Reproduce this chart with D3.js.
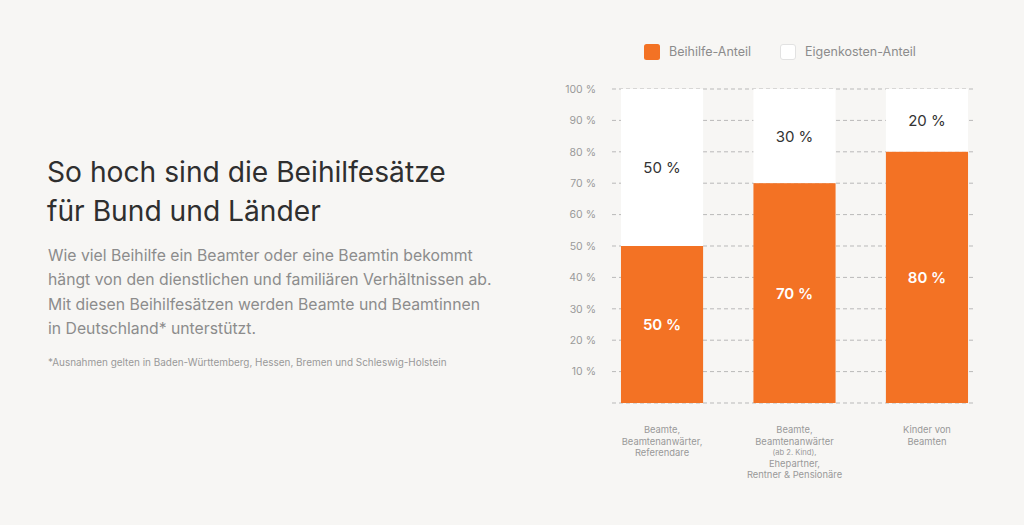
<!DOCTYPE html>
<html><head><meta charset="utf-8">
<script src="https://cdn.jsdelivr.net/npm/d3@7"></script>
<style>
html,body{margin:0;padding:0;background:#f7f6f4;}
svg{display:block;font-family:Inter,"Noto Sans",sans-serif;}
</style></head><body>
<svg id="c" width="1024" height="525"></svg>
<script>
const categories = ["c1","c2","c3"];
const categoryLabels = [
  [["Beamte,",9.4],["Beamtenanwärter,",9.4],["Referendare",9.4]],
  [["Beamte,",9.4],["Beamtenanwärter",9.4],["(ab 2. Kind),",7.6],["Ehepartner,",9.4],["Rentner & Pensionäre",9.4]],
  [["Kinder von",9.4],["Beamten",9.4]]
];
const beihilfe = [50,70,80];
const eigen = [50,30,20];
const yTicks = [10,20,30,40,50,60,70,80,90,100];
const seriesNames = ["Beihilfe-Anteil","Eigenkosten-Anteil"];
const titleLines = ["So hoch sind die Beihilfesätze","für Bund und Länder"];
const bodyLines = ["Wie viel Beihilfe ein Beamter oder eine Beamtin bekommt","hängt von den dienstlichen und familiären Verhältnissen ab.","Mit diesen Beihilfesätzen werden Beamte und Beamtinnen","in Deutschland* unterstützt."];
const footnote = "*Ausnahmen gelten in Baden-Württemberg, Hessen, Bremen und Schleswig-Holstein";

const orange = "#f37224";
const svg = d3.select("#c");
svg.append("rect").attr("width",1024).attr("height",525).attr("fill","#f7f6f4");

// left text
const tg = svg.append("g");
titleLines.forEach((t,i)=>tg.append("text").attr("x",47).attr("y",182+i*39).attr("font-size",28.2).attr("fill","#2f2f2f").attr("font-weight",400).text(t));
bodyLines.forEach((t,i)=>tg.append("text").attr("x",48).attr("y",261+i*24.3).attr("font-size",15.75).attr("fill","#8c8c8c").text(t));
tg.append("text").attr("x",48).attr("y",366).attr("font-size",9.95).attr("fill","#999").text(footnote);

// chart
const x = d3.scaleBand().domain(categories).range([611.7,977.3]).paddingInner(0.38).paddingOuter(0.07);
const y = d3.scaleLinear().domain([0,100]).range([403,89]);

// grid
const grid = svg.append("g");
[0,...yTicks].forEach(v=>{
  grid.append("line").attr("x1",612).attr("x2",976).attr("y1",y(v)).attr("y2",y(v))
    .attr("stroke","#b9b9b9").attr("stroke-width",1).attr("stroke-dasharray","4,3");
});
const yAxis = d3.axisLeft(y).tickValues(yTicks).tickSize(0).tickPadding(0).tickFormat(d=>d+" %");
const ya = svg.append("g").attr("transform","translate(596,0)").call(yAxis);
ya.select(".domain").remove();
ya.selectAll("text").attr("font-size",10.5).attr("fill","#9a9a9a").attr("font-family","Inter,sans-serif");

// bars
const bars = svg.append("g");
categories.forEach((c,i)=>{
  const bx = x(c), bw = x.bandwidth();
  bars.append("rect").attr("x",bx).attr("width",bw).attr("y",y(100)).attr("height",y(beihilfe[i])-y(100)).attr("fill","#ffffff");
  bars.append("rect").attr("x",bx).attr("width",bw).attr("y",y(beihilfe[i])).attr("height",y(0)-y(beihilfe[i])).attr("fill",orange);
  bars.append("text").attr("x",bx+bw/2).attr("y",y(beihilfe[i]/2)).attr("dy","0.36em").attr("text-anchor","middle")
    .attr("font-size",15).attr("font-weight",600).attr("fill","#fff").text(beihilfe[i]+" %");
  bars.append("text").attr("x",bx+bw/2).attr("y",y(beihilfe[i]+eigen[i]/2)).attr("dy","0.36em").attr("text-anchor","middle")
    .attr("font-size",15).attr("font-weight",400).attr("fill","#333").text(eigen[i]+" %");
  let yy = 430;
  categoryLabels[i].forEach(([t,fs])=>{
    bars.append("text").attr("x",bx+bw/2).attr("y",yy).attr("dy","0.35em").attr("text-anchor","middle")
      .attr("font-size",fs).attr("fill","#999").text(t);
    yy += fs<9 ? 10.8 : 11.4;
  });
});

// legend
const lg = svg.append("g");
lg.append("rect").attr("x",644).attr("y",44).attr("width",16).attr("height",16).attr("rx",2.5).attr("fill",orange);
lg.append("text").attr("x",669).attr("y",52).attr("dy","0.35em").attr("font-size",12.5).attr("fill","#8c8c8c").text(seriesNames[0]);
lg.append("rect").attr("x",780.5).attr("y",44.5).attr("width",15).attr("height",15).attr("rx",2.5).attr("fill","#fff").attr("stroke","#e2e2e2");
lg.append("text").attr("x",805).attr("y",52).attr("dy","0.35em").attr("font-size",12.5).attr("fill","#8c8c8c").text(seriesNames[1]);
</script>
</body></html>
